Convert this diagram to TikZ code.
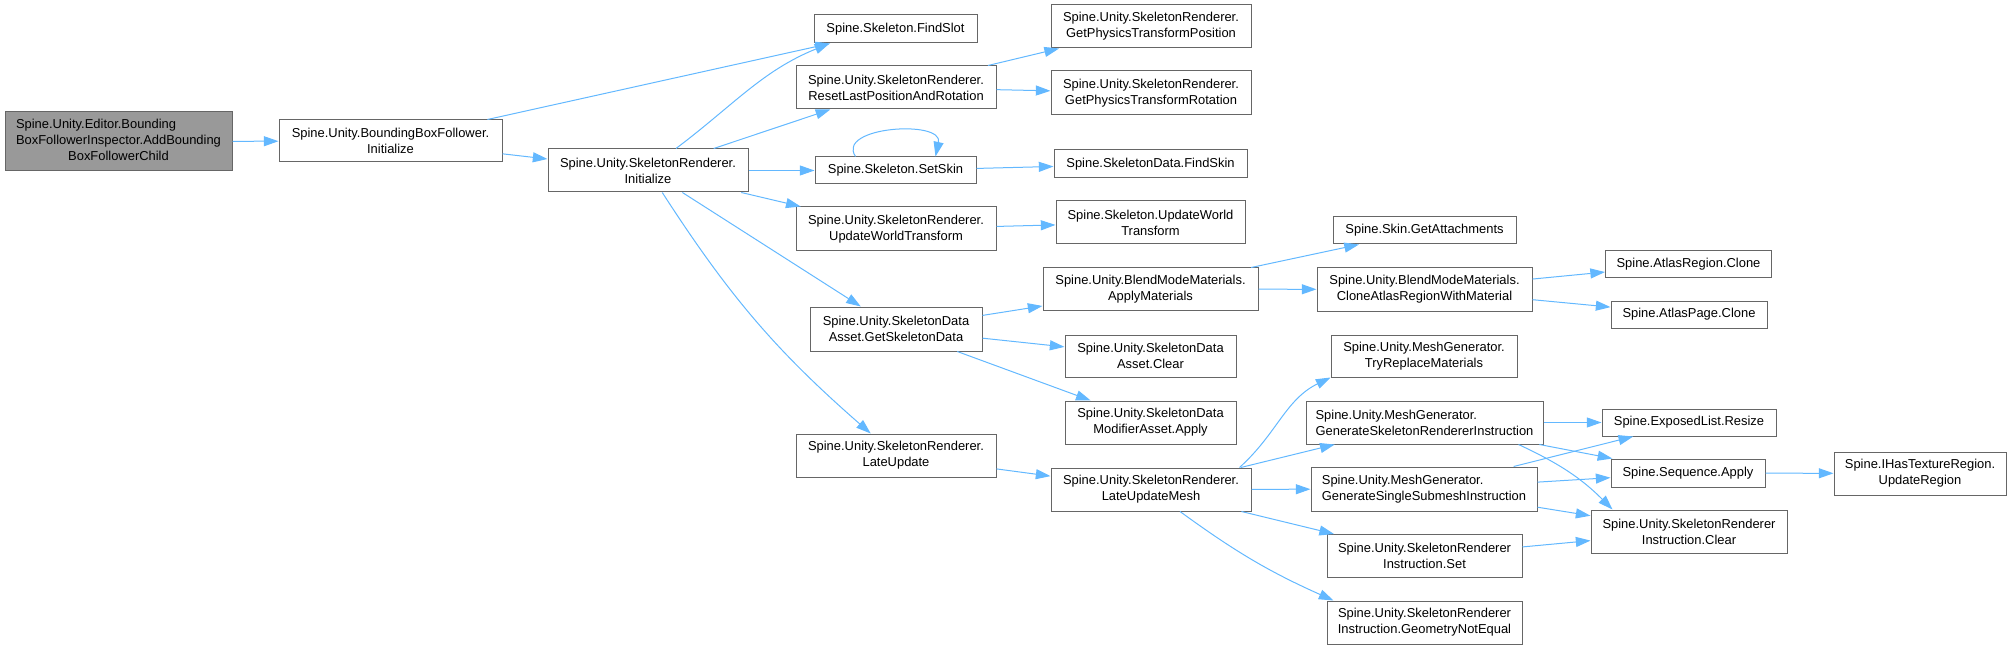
\documentclass[tikz,border=0pt]{standalone}
\usepackage{fontspec}
\setmainfont{Liberation Sans}
\definecolor{dxEdge}{HTML}{63B8FF}
\definecolor{dxBorder}{HTML}{666666}
\definecolor{dxRoot}{HTML}{999999}
\usetikzlibrary{arrows.meta,calc}
\begin{document}
\begin{tikzpicture}[
  x=0.75pt,y=-0.75pt,
  font=\fontsize{9.7}{12}\selectfont,
  fn/.style 2 args={draw=dxBorder,fill=white,line width=0.75pt,inner sep=0pt,align=center,
    minimum width=#1*0.75pt,minimum height=#2*0.75pt},
  rootfn/.style 2 args={fn={#1}{#2},fill=dxRoot},
  call/.style={draw=dxEdge,line width=0.75pt,-{Triangle[length=11pt,width=7.5pt]}}
]
\useasboundingbox (0,0) rectangle (2011,649);
% column 1-3
\node[rootfn={227}{59}] (root) at (118.5,141.5) {\begin{tabular}{@{}l@{}}Spine.Unity.Editor.Bounding\\BoxFollowerInspector.AddBounding\\\multicolumn{1}{@{}c@{}}{BoxFollowerChild}\end{tabular}};
\node[fn={223}{42}] (bbf) at (390.5,141) {Spine.Unity.BoundingBoxFollower.\\Initialize};
\node[fn={200}{43}] (srinit) at (648,170.5) {Spine.Unity.SkeletonRenderer.\\Initialize};
% column 4
\node[fn={163}{28}] (findslot) at (895.5,29) {Spine.Skeleton.FindSlot};
\node[fn={200}{43}] (reset) at (896,87.5) {Spine.Unity.SkeletonRenderer.\\ResetLastPositionAndRotation};
\node[fn={161}{27}] (setskin) at (895.5,170.5) {Spine.Skeleton.SetSkin};
\node[fn={200}{44}] (sruwt) at (896,229) {Spine.Unity.SkeletonRenderer.\\UpdateWorldTransform};
\node[fn={172}{44}] (gsd) at (896,329) {Spine.Unity.SkeletonData\\Asset.GetSkeletonData};
\node[fn={200}{43}] (lateupdate) at (896,455.5) {Spine.Unity.SkeletonRenderer.\\LateUpdate};
% column 5
\node[fn={200}{43}] (gptpos) at (1151,26.5) {Spine.Unity.SkeletonRenderer.\\GetPhysicsTransformPosition};
\node[fn={200}{44}] (gptrot) at (1151,93) {Spine.Unity.SkeletonRenderer.\\GetPhysicsTransformRotation};
\node[fn={193}{28}] (findskin) at (1150.5,164) {Spine.SkeletonData.FindSkin};
\node[fn={189}{43}] (skeluwt) at (1150.5,222.5) {Spine.Skeleton.UpdateWorld\\Transform};
\node[fn={215}{42}] (applymat) at (1150.5,289) {Spine.Unity.BlendModeMaterials.\\ApplyMaterials};
\node[fn={171}{42}] (sdaclear) at (1150.5,356) {Spine.Unity.SkeletonData\\Asset.Clear};
\node[fn={171}{43}] (sdmaapply) at (1150.5,422.5) {Spine.Unity.SkeletonData\\ModifierAsset.Apply};
\node[fn={200}{43}] (lum) at (1151,489.5) {Spine.Unity.SkeletonRenderer.\\LateUpdateMesh};
% column 6
\node[fn={183}{27}] (getattach) at (1424.5,230.5) {Spine.Skin.GetAttachments};
\node[fn={215}{43}] (cloneatlas) at (1424.5,289.5) {Spine.Unity.BlendModeMaterials.\\CloneAtlasRegionWithMaterial};
\node[fn={186}{42}] (tryreplace) at (1424,356) {Spine.Unity.MeshGenerator.\\TryReplaceMaterials};
\node[fn={237}{43},align=left] (gensr) at (1424.5,422.5) {Spine.Unity.MeshGenerator.\\GenerateSkeletonRendererInstruction};
\node[fn={226}{44},align=left] (gensingle) at (1424,489) {Spine.Unity.MeshGenerator.\\GenerateSingleSubmeshInstruction};
\node[fn={195}{43}] (srset) at (1424.5,556) {Spine.Unity.SkeletonRenderer\\Instruction.Set};
\node[fn={195}{43}] (geomne) at (1424.5,622.5) {Spine.Unity.SkeletonRenderer\\Instruction.GeometryNotEqual};
% column 7-8
\node[fn={166}{26}] (regionclone) at (1688.5,264) {Spine.AtlasRegion.Clone};
\node[fn={156}{27}] (pageclone) at (1689,314.5) {Spine.AtlasPage.Clone};
\node[fn={174}{27}] (resize) at (1689,422.5) {Spine.ExposedList.Resize};
\node[fn={154}{28}] (seqapply) at (1688,473) {Spine.Sequence.Apply};
\node[fn={196}{43}] (srclear) at (1689,531.5) {Spine.Unity.SkeletonRenderer\\Instruction.Clear};
\node[fn={172}{43}] (uregion) at (1920,473.5) {Spine.IHasTextureRegion.\\UpdateRegion};

% straight calls
\foreach \a/\b in {root/bbf,bbf/findslot,bbf/srinit,srinit/reset,srinit/setskin,srinit/sruwt,
  srinit/gsd,reset/gptpos,reset/gptrot,setskin/findskin,sruwt/skeluwt,gsd/applymat,gsd/sdaclear,
  gsd/sdmaapply,applymat/getattach,applymat/cloneatlas,cloneatlas/regionclone,cloneatlas/pageclone,
  lateupdate/lum,lum/gensr,lum/gensingle,lum/srset,gensr/resize,gensr/seqapply,gensingle/resize,
  gensingle/seqapply,gensingle/srclear,srset/srclear,seqapply/uregion}
  \draw[call] (\a) -- (\b);

% curved calls
\draw[call] ($(srinit.north)+(28,0)$) to[out=37,in=202] ($(findslot.south west)+(16,0)$);
\draw[call] (srinit) to[bend right=8] (lateupdate);
\draw[call] ($(setskin.north)+(-40,0)$) .. controls +(-20,-30) and +(8,-37) .. ($(setskin.north)+(40,0)$);
\draw[call] ($(lum.north east)+(-12,0)$) to[out=42,in=206] (tryreplace.south west);
\draw[call] ($(lum.south)+(29,0)$) to[bend right=6] ($(geomne.north west)+(7,0)$);
\draw[call] ($(gensr.south east)+(-25,0)$) to[out=-25,in=135] ($(srclear.north west)+(22,0)$);
\end{tikzpicture}
\end{document}
